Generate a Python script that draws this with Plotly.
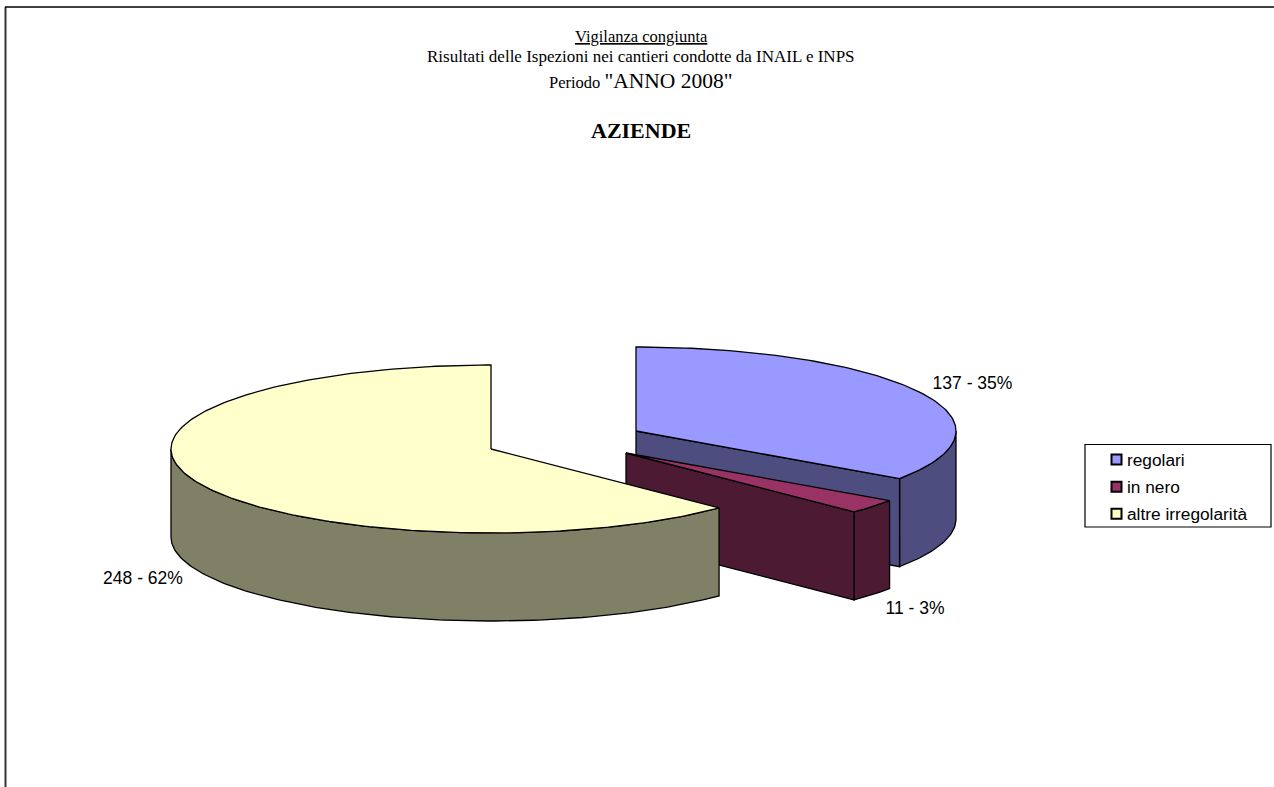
import numpy as np
import plotly.graph_objects as go

# ---- data ----
categories = ["regolari", "in nero", "altre irregolarità"]
values = [137, 11, 248]
percent_labels = ["35%", "3%", "62%"]
top_colors = ["#9999FF", "#993366", "#FFFFCC"]
side_colors = ["#4D4D80", "#4C1A33", "#808066"]
title_lines = ["Vigilanza congiunta",
               "Risultati delle Ispezioni nei cantieri condotte da INAIL e INPS"]

# ---- layout constants (pixel-space axes) ----
W, H = 1274, 787
RX, RY, DEPTH = 320, 84, 88
centers = [(636, 431), (626, 453), (491, 449)]
label_xy = [(972.5, 385), (915, 610), (143, 580)]
legend_box = (1085, 444.5, 1271, 527)
legend_swatch_x = 1116.5
legend_text_x = 1127
legend_rows_y = [459.6, 486.8, 513.7]
legend_text_dy = 2


def rim(c, a0, a1, dy=0.0):
    """Ellipse arc, angles clockwise from 12 o'clock, degrees."""
    n = max(2, int(abs(a1 - a0)) + 2)
    t = np.radians(np.linspace(a0, a1, n))
    return c[0] + RX * np.sin(t), c[1] - RY * np.cos(t) + dy


def poly(x, y, color):
    return go.Scatter(x=list(x) + [x[0]], y=list(y) + [y[0]], mode="lines", fill="toself",
                      fillcolor=color, line=dict(color="black", width=1.3),
                      hoverinfo="skip", showlegend=False)


fig = go.Figure()
total = sum(values)
angle = 0.0
for v, c, top, side in zip(values, centers, top_colors, side_colors):
    a0, a1 = angle, angle + 360.0 * v / total
    angle = a1
    # outer wall: only the part of the rim that faces the viewer
    f0, f1 = max(a0, 90), min(a1, 270)
    if f1 > f0:
        xa, ya = rim(c, f0, f1)
        xb, yb = rim(c, f1, f0, DEPTH)
        fig.add_trace(poly(np.r_[xa, xb], np.r_[ya, yb], side))
    # cut face at the end of the slice, if it faces the viewer
    if np.sin(np.radians(a1)) > 0:
        xe, ye = rim(c, a1, a1)
        xe, ye = xe[0], ye[0]
        fig.add_trace(poly([c[0], xe, xe, c[0]], [c[1], ye, ye + DEPTH, c[1] + DEPTH], side))
    # top face
    xt, yt = rim(c, a0, a1)
    fig.add_trace(poly(np.r_[c[0], xt], np.r_[c[1], yt], top))

# data labels
fig.add_trace(go.Scatter(x=[p[0] for p in label_xy], y=[p[1] for p in label_xy], mode="text",
                         text=[f"{v} - {p}" for v, p in zip(values, percent_labels)],
                         textfont=dict(family="Liberation Sans", size=17.5, color="black"),
                         hoverinfo="skip", showlegend=False))

# legend entries, placed to match the reference's tight swatch/text spacing
fig.add_trace(go.Scatter(x=[legend_swatch_x] * len(categories), y=legend_rows_y, mode="markers",
                         marker=dict(symbol="square", size=10, color=top_colors,
                                     line=dict(color="black", width=2)),
                         hoverinfo="skip", showlegend=False))
fig.add_trace(go.Scatter(x=[legend_text_x] * len(categories),
                         y=[r + legend_text_dy for r in legend_rows_y],
                         mode="text", text=categories, textposition="middle right",
                         textfont=dict(family="Liberation Sans", size=17.3, color="black"),
                         hoverinfo="skip", showlegend=False))

serif = "Liberation Serif"
ann = [
    dict(x=641, y=36, text=f"<u>{title_lines[0]}</u>", font=dict(family=serif, size=16.5)),
    dict(x=641, y=56, text=title_lines[1], font=dict(family=serif, size=17)),
    dict(x=641, y=81, text='Periodo <span style="font-size:21.5px">"ANNO 2008"</span>',
         font=dict(family=serif, size=16.5)),
    dict(x=641, y=130, text="<b>AZIENDE</b>", font=dict(family=serif, size=22)),
]
for a in ann:
    a.update(xref="x", yref="y", showarrow=False, xanchor="center", yanchor="middle")
    a["font"]["color"] = "black"

fig.update_layout(
    width=W, height=H, margin=dict(l=0, r=0, t=0, b=0, autoexpand=False),
    paper_bgcolor="white", plot_bgcolor="white", showlegend=False,
    xaxis=dict(range=[0, W], visible=False, fixedrange=True),
    yaxis=dict(range=[H, 0], visible=False, fixedrange=True),
    annotations=ann,
    shapes=[
        dict(type="line", xref="x", yref="y", x0=5.5, x1=5.5, y0=7, y1=H,
             line=dict(color="#333333", width=2)),
        dict(type="line", xref="x", yref="y", x0=5, x1=W, y0=7, y1=7,
             line=dict(color="black", width=1.5)),
        dict(type="rect", xref="x", yref="y", x0=legend_box[0], y0=legend_box[1],
             x1=legend_box[2], y1=legend_box[3], line=dict(color="black", width=1.2),
             fillcolor="white", layer="below"),
    ],
)
fig.write_html("out.html", config={"displayModeBar": False},
               post_script="document.body.style.margin='0';document.documentElement.style.overflow='hidden';")
